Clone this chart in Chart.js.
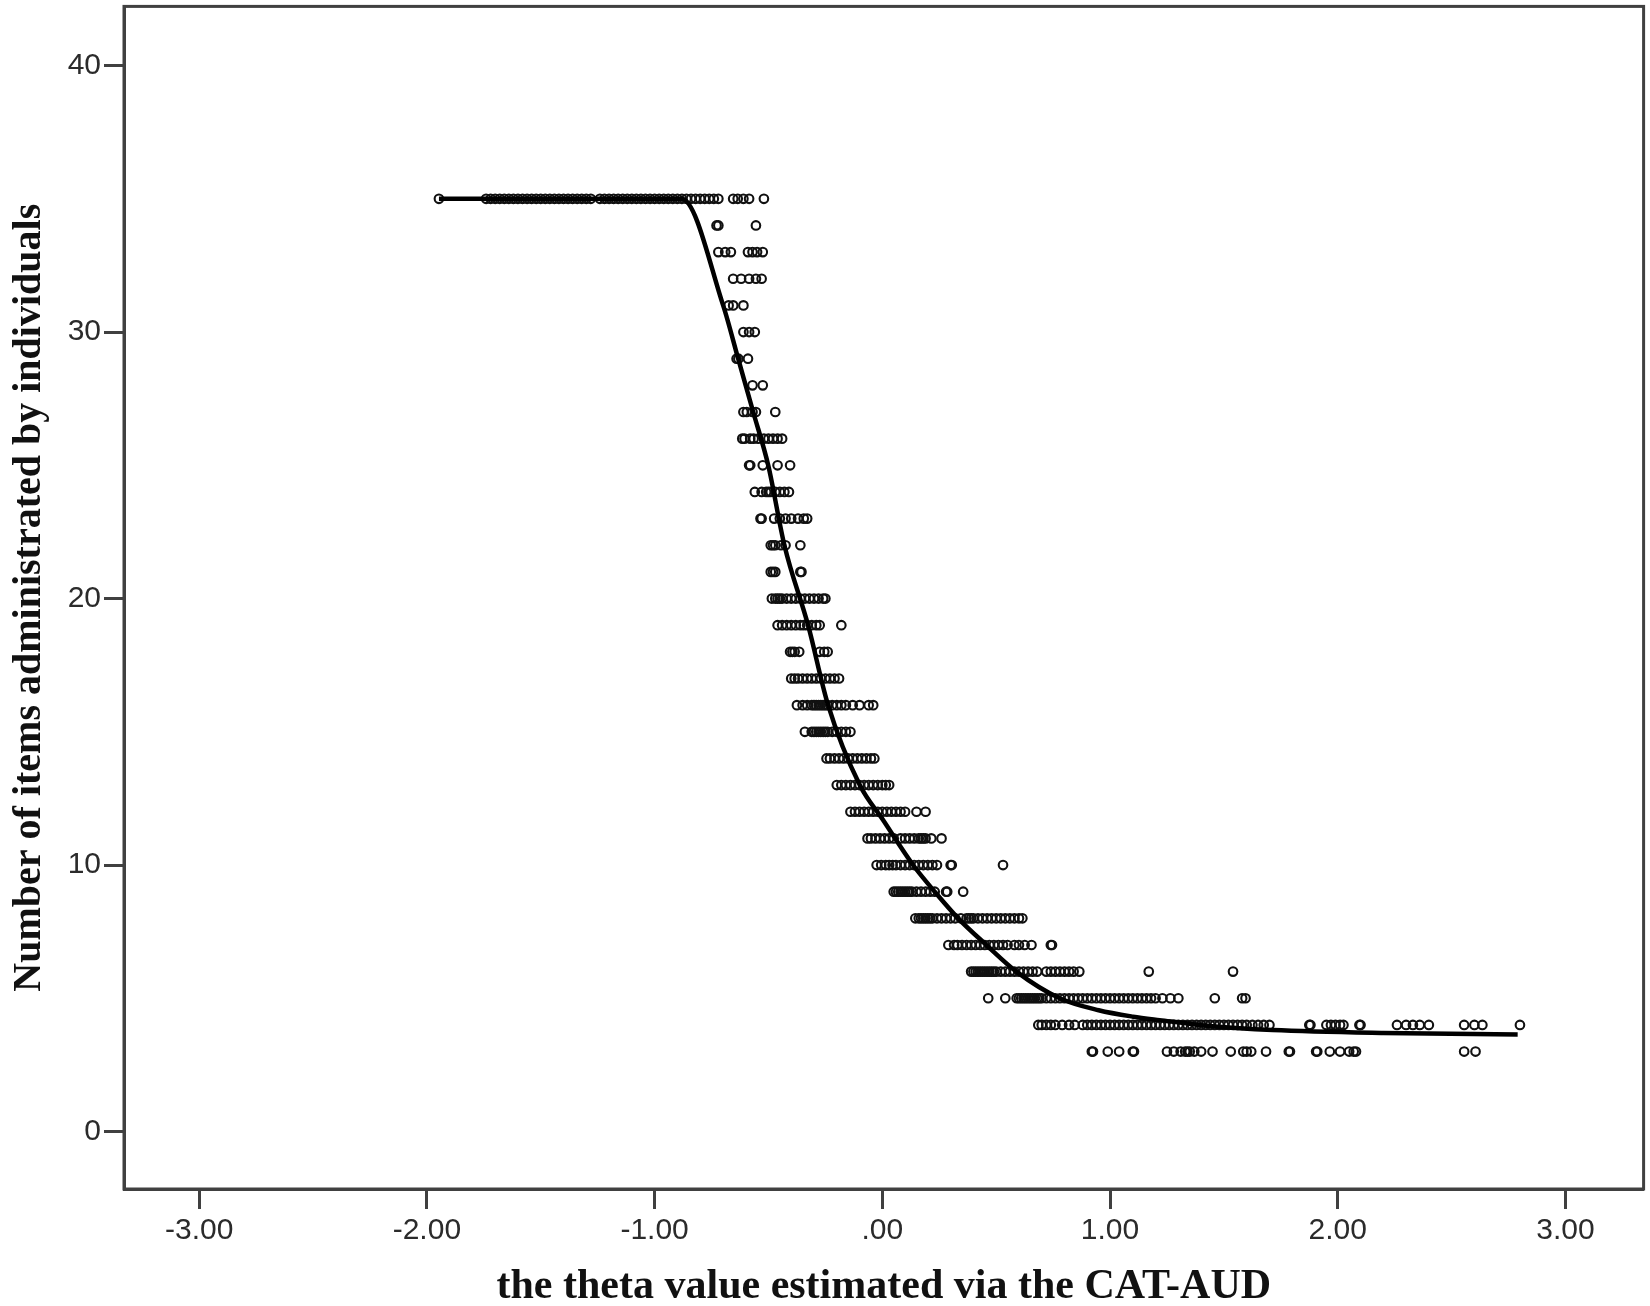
<!DOCTYPE html>
<html>
<head>
<meta charset="utf-8">
<script src="https://cdn.jsdelivr.net/npm/chart.js@4"></script>
<style>
  html, body { margin: 0; padding: 0; background: #fff; }
  canvas { display: block; }
</style>
</head>
<body>
<canvas id="thetaChart" width="1650" height="1306"></canvas>
<script>
// number of items (y levels) and the theta values at each level
const itemLevels = [35, 34, 33, 32, 31, 30, 29, 28, 27, 26, 25, 24, 23, 22, 21, 20, 19, 18, 17, 16, 15, 14, 13, 12, 11, 10, 9, 8, 7, 6, 5, 4, 3];
const thetaAtLevel = [
    [-1.947, -1.74, -1.72, -1.70, -1.68, -1.66, -1.64, -1.62, -1.60, -1.58, -1.56, -1.54, -1.52, -1.50, -1.48, -1.46, -1.44, -1.42, -1.40, -1.38, -1.36, -1.34, -1.32, -1.30, -1.28, -1.24, -1.22, -1.20, -1.18, -1.16, -1.14, -1.12, -1.10, -1.08, -1.06, -1.04, -1.02, -1.00, -0.98, -0.96, -0.94, -0.92, -0.90, -0.88, -0.86, -0.84, -0.82, -0.80, -0.78, -0.76, -0.74, -0.72, -0.655, -0.635, -0.61, -0.585, -0.52],
    [-0.728, -0.72, -0.555],
    [-0.72, -0.69, -0.665, -0.59, -0.57, -0.55, -0.525],
    [-0.655, -0.62, -0.585, -0.555, -0.53],
    [-0.675, -0.655, -0.61],
    [-0.61, -0.585, -0.56],
    [-0.64, -0.632, -0.59],
    [-0.57, -0.525],
    [-0.61, -0.595, -0.57, -0.555, -0.47],
    [-0.615, -0.605, -0.58, -0.565, -0.545, -0.52, -0.5, -0.48, -0.46, -0.44],
    [-0.585, -0.58, -0.525, -0.46, -0.405],
    [-0.56, -0.53, -0.51, -0.5, -0.49, -0.47, -0.45, -0.43, -0.41],
    [-0.535, -0.53, -0.475, -0.45, -0.425, -0.4, -0.37, -0.345, -0.33],
    [-0.49, -0.48, -0.47, -0.445, -0.425, -0.36],
    [-0.49, -0.48, -0.47, -0.36, -0.355],
    [-0.485, -0.47, -0.46, -0.45, -0.44, -0.42, -0.4, -0.38, -0.36, -0.34, -0.32, -0.3, -0.28, -0.26, -0.25],
    [-0.46, -0.44, -0.42, -0.4, -0.38, -0.36, -0.345, -0.33, -0.31, -0.29, -0.275, -0.18],
    [-0.405, -0.395, -0.385, -0.365, -0.275, -0.255, -0.24],
    [-0.4, -0.385, -0.37, -0.35, -0.33, -0.31, -0.29, -0.27, -0.25, -0.23, -0.21, -0.19],
    [-0.375, -0.35, -0.33, -0.31, -0.3, -0.29, -0.28, -0.27, -0.26, -0.25, -0.24, -0.22, -0.2, -0.18, -0.16, -0.13, -0.1, -0.06, -0.04],
    [-0.34, -0.31, -0.3, -0.29, -0.28, -0.27, -0.26, -0.25, -0.24, -0.22, -0.2, -0.18, -0.16, -0.14],
    [-0.245, -0.23, -0.21, -0.19, -0.17, -0.15, -0.13, -0.11, -0.09, -0.07, -0.05, -0.035],
    [-0.2, -0.18, -0.16, -0.14, -0.12, -0.1, -0.08, -0.06, -0.04, -0.02, 0.0, 0.015, 0.03],
    [-0.14, -0.12, -0.1, -0.08, -0.06, -0.04, -0.02, 0.0, 0.02, 0.04, 0.06, 0.08, 0.1, 0.15, 0.19],
    [-0.065, -0.05, -0.03, -0.01, 0.01, 0.03, 0.05, 0.08, 0.1, 0.12, 0.14, 0.16, 0.17, 0.18, 0.19, 0.215, 0.26],
    [-0.025, -0.005, 0.015, 0.03, 0.045, 0.06, 0.08, 0.1, 0.12, 0.14, 0.16, 0.18, 0.2, 0.22, 0.24, 0.3, 0.305, 0.53],
    [0.05, 0.06, 0.07, 0.08, 0.09, 0.1, 0.11, 0.12, 0.13, 0.15, 0.17, 0.19, 0.21, 0.23, 0.28, 0.285, 0.355],
    [0.145, 0.16, 0.17, 0.18, 0.19, 0.2, 0.21, 0.22, 0.24, 0.26, 0.28, 0.3, 0.32, 0.345, 0.37, 0.38, 0.39, 0.4, 0.42, 0.44, 0.46, 0.48, 0.5, 0.52, 0.54, 0.56, 0.58, 0.6, 0.615],
    [0.29, 0.315, 0.33, 0.35, 0.37, 0.39, 0.41, 0.43, 0.45, 0.47, 0.49, 0.51, 0.53, 0.55, 0.58, 0.6, 0.625, 0.655, 0.74, 0.745],
    [0.39, 0.4, 0.41, 0.42, 0.43, 0.44, 0.45, 0.46, 0.47, 0.48, 0.49, 0.5, 0.52, 0.54, 0.56, 0.58, 0.6, 0.62, 0.64, 0.66, 0.68, 0.72, 0.74, 0.76, 0.78, 0.8, 0.82, 0.84, 0.865, 1.17, 1.54],
    [0.465, 0.54, 0.59, 0.6, 0.61, 0.62, 0.63, 0.64, 0.65, 0.66, 0.67, 0.68, 0.69, 0.7, 0.72, 0.74, 0.76, 0.78, 0.8, 0.82, 0.84, 0.86, 0.88, 0.9, 0.92, 0.94, 0.96, 0.98, 1.0, 1.02, 1.04, 1.06, 1.08, 1.1, 1.12, 1.14, 1.16, 1.18, 1.2, 1.23, 1.265, 1.3, 1.46, 1.58, 1.595],
    [0.685, 0.7, 0.72, 0.74, 0.76, 0.79, 0.82, 0.845, 0.88, 0.9, 0.92, 0.94, 0.96, 0.98, 1.0, 1.02, 1.04, 1.06, 1.08, 1.1, 1.12, 1.14, 1.16, 1.18, 1.2, 1.22, 1.24, 1.26, 1.28, 1.3, 1.32, 1.34, 1.36, 1.38, 1.4, 1.42, 1.44, 1.46, 1.48, 1.5, 1.52, 1.54, 1.56, 1.58, 1.6, 1.625, 1.65, 1.675, 1.7, 1.875, 1.88, 1.95, 1.97, 1.99, 2.01, 2.025, 2.095, 2.1, 2.26, 2.3, 2.33, 2.36, 2.4, 2.555, 2.6, 2.635, 2.8],
    [0.92, 0.925, 0.99, 1.04, 1.1, 1.105, 1.25, 1.28, 1.31, 1.33, 1.34, 1.35, 1.37, 1.4, 1.45, 1.53, 1.585, 1.6, 1.62, 1.685, 1.785, 1.79, 1.905, 1.91, 1.965, 2.01, 2.05, 2.07, 2.08, 2.555, 2.605]
];

// fitted curve
const fitTheta = [-1.947, -0.881, -0.699, -0.633, -0.567, -0.501, -0.43, -0.326, -0.238, -0.099, 0.004, 0.135, 0.23, 0.333, 0.457, 0.589, 0.779, 0.95, 1.101, 1.218, 1.45, 1.714, 2.2, 2.79];
const fitItems = [35, 35, 31.0, 29, 27, 25, 22, 19, 16, 13, 11.68, 10, 9, 8, 7, 6, 5, 4.55, 4.31, 4.18, 3.95, 3.81, 3.7, 3.64];

// axis ticks
const xTickValues = [-3, -2, -1, 0, 1, 2, 3];
const xTickLabels = ['-3.00', '-2.00', '-1.00', '.00', '1.00', '2.00', '3.00'];
const yTickValues = [0, 10, 20, 30, 40];

const scatterPoints = [];
itemLevels.forEach((lvl, i) => {
    thetaAtLevel[i].forEach(t => scatterPoints.push({ x: t, y: lvl }));
});
const fitPoints = fitTheta.map((t, i) => ({ x: t, y: fitItems[i] }));

const frameColor = '#404040';

// box round the plot area
const frameBox = {
    id: 'frameBox',
    afterDraw(chart) {
        const { ctx, chartArea: a } = chart;
        ctx.save();
        ctx.strokeStyle = frameColor;
        ctx.lineWidth = 3;
        ctx.strokeRect(a.left, a.top, a.right - a.left, a.bottom - a.top);
        ctx.restore();
    }
};

const ctx = document.getElementById('thetaChart').getContext('2d');
new Chart(ctx, {
    type: 'scatter',
    data: {
        datasets: [
            {
                type: 'line',
                label: 'fit',
                data: fitPoints,
                borderColor: '#000',
                borderWidth: 4.5,
                pointRadius: 0,
                fill: false,
                cubicInterpolationMode: 'monotone',
                order: 0
            },
            {
                label: 'individuals',
                data: scatterPoints,
                pointStyle: 'circle',
                pointRadius: 4.3,
                pointBorderWidth: 2.1,
                pointBorderColor: '#111',
                pointBackgroundColor: 'rgba(255,255,255,0)',
                order: 1
            }
        ]
    },
    options: {
        responsive: false,
        animation: false,
        layout: { padding: { left: 0, right: 6, top: 6, bottom: 0 } },
        scales: {
            x: {
                type: 'linear',
                min: -3.33,
                max: 3.343,
                afterBuildTicks: scale => { scale.ticks = xTickValues.map(v => ({ value: v })); },
                afterFit: scale => {
                    scale.height = 117;
                    scale.paddingLeft = 0;
                    scale.paddingRight = 0;
                },
                ticks: {
                    callback: v => xTickLabels[xTickValues.indexOf(v)],
                    font: { family: 'Liberation Sans', size: 30 },
                    color: '#2b2b2b',
                    padding: 4,
                    maxRotation: 0
                },
                grid: {
                    drawOnChartArea: false,
                    drawTicks: true,
                    tickLength: 20,
                    tickWidth: 3,
                    tickColor: frameColor
                },
                border: { display: true, width: 3, color: frameColor },
                title: {
                    display: true,
                    text: 'the theta value estimated via the CAT-AUD',
                    font: { family: 'Liberation Serif', size: 42, weight: 'bold', lineHeight: 0.9 },
                    color: '#111',
                    padding: { top: 0, bottom: 0 }
                }
            },
            y: {
                type: 'linear',
                min: -2.157,
                max: 42.22,
                afterBuildTicks: scale => { scale.ticks = yTickValues.map(v => ({ value: v })); },
                afterFit: scale => {
                    scale.width = 124;
                    scale.paddingTop = 0;
                    scale.paddingBottom = 0;
                },
                ticks: {
                    font: { family: 'Liberation Sans', size: 30 },
                    color: '#2b2b2b',
                    padding: 3
                },
                grid: {
                    drawOnChartArea: false,
                    drawTicks: true,
                    tickLength: 20,
                    tickWidth: 3,
                    tickColor: frameColor
                },
                border: { display: true, width: 3, color: frameColor },
                title: {
                    display: true,
                    text: 'Number of items administrated by individuals',
                    font: { family: 'Liberation Serif', size: 40, weight: 'bold' },
                    color: '#111',
                    padding: { top: 6, bottom: 0 }
                }
            }
        },
        plugins: {
            legend: { display: false },
            tooltip: { enabled: false }
        }
    },
    plugins: [frameBox]
});
</script>
</body>
</html>
